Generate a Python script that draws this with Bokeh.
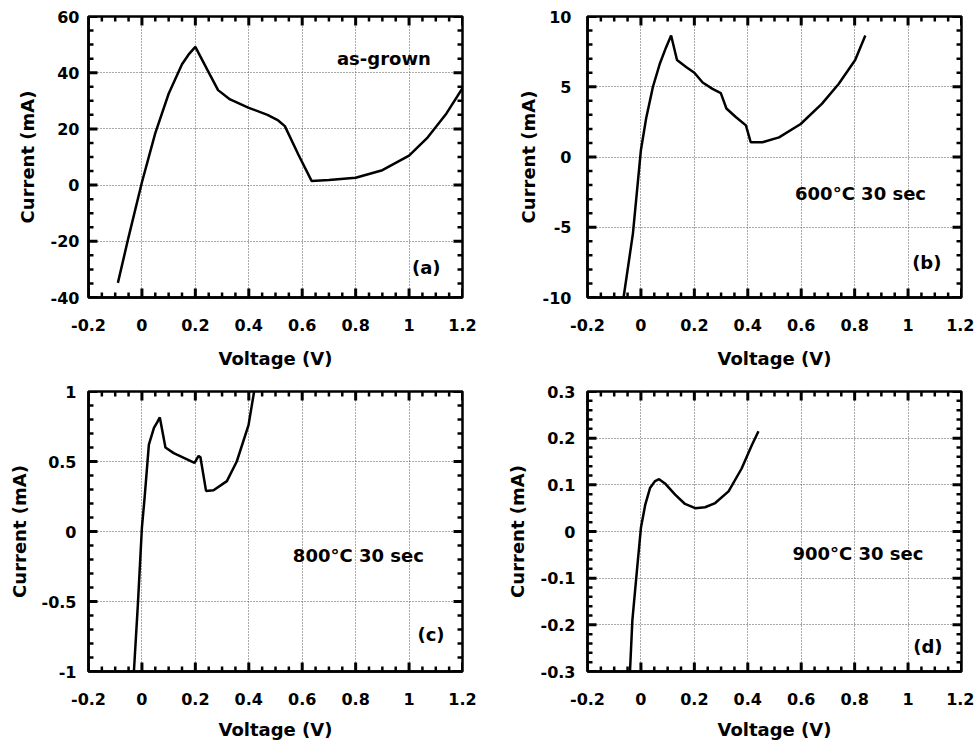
import numpy as np
from bokeh.plotting import figure
from bokeh.layouts import gridplot
from bokeh.models import FixedTicker, CustomJSTickFormatter, Range1d, Label
from bokeh.embed import file_html
from bokeh.resources import INLINE

# ---------------- data ----------------
x_ticks = [-0.2, 0, 0.2, 0.4, 0.6, 0.8, 1, 1.2]
x_tick_labels = ["-0.2", "0", "0.2", "0.4", "0.6", "0.8", "1", "1.2"]

# (a) as-grown
v_a = [-0.09, -0.05, 0.0, 0.05, 0.10, 0.15, 0.175, 0.20, 0.245, 0.285, 0.33, 0.40,
       0.47, 0.51, 0.535, 0.585, 0.635, 0.70, 0.80, 0.90, 1.00, 1.07, 1.14, 1.20]
i_a = [-34.8, -18.5, 1.0, 18.5, 32.5, 43.0, 46.5, 49.2, 41.0, 33.8, 30.5, 27.5,
       25.0, 23.0, 21.0, 11.0, 1.5, 1.8, 2.6, 5.3, 10.5, 17.0, 25.5, 34.5]
y_ticks_a = [-40, -20, 0, 20, 40, 60]
y_tick_labels_a = ["-40", "-20", "0", "20", "40", "60"]

# (b) 600C 30 sec
v_b = [-0.065, -0.030, 0.0, 0.020, 0.045, 0.070, 0.094, 0.113, 0.135, 0.169, 0.200,
       0.231, 0.268, 0.299, 0.320, 0.355, 0.393, 0.411, 0.455, 0.517, 0.598, 0.678,
       0.740, 0.802, 0.840]
i_b = [-10.0, -5.45, 0.5, 2.8, 5.0, 6.6, 7.8, 8.65, 6.9, 6.4, 6.0,
       5.3, 4.85, 4.55, 3.45, 2.85, 2.25, 1.05, 1.05, 1.4, 2.35, 3.8,
       5.2, 6.9, 8.65]
y_ticks_b = [-10, -5, 0, 5, 10]
y_tick_labels_b = ["-10", "-5", "0", "5", "10"]

# (c) 800C 30 sec
v_c = [-0.030, -0.015, 0.0, 0.010, 0.026, 0.045, 0.057, 0.067, 0.088, 0.119, 0.197,
       0.212, 0.219, 0.240, 0.268, 0.318, 0.355, 0.399, 0.420]
i_c = [-1.0, -0.515, 0.03, 0.24, 0.62, 0.74, 0.78, 0.815, 0.60, 0.56, 0.49,
       0.54, 0.53, 0.29, 0.295, 0.36, 0.50, 0.76, 1.0]
y_ticks_c = [-1, -0.5, 0, 0.5, 1]
y_tick_labels_c = ["-1", "-0.5", "0", "0.5", "1"]

# (d) 900C 30 sec
v_d = [-0.041, -0.032, -0.015, 0.0, 0.016, 0.034, 0.053, 0.068, 0.090, 0.128, 0.165,
       0.203, 0.240, 0.278, 0.328, 0.377, 0.415, 0.440]
i_d = [-0.30, -0.19, -0.084, 0.008, 0.057, 0.093, 0.108, 0.112, 0.103, 0.079, 0.059,
       0.050, 0.052, 0.061, 0.086, 0.135, 0.185, 0.215]
y_ticks_d = [-0.3, -0.2, -0.1, 0, 0.1, 0.2, 0.3]
y_tick_labels_d = ["-0.3", "-0.2", "-0.1", "0", "0.1", "0.2", "0.3"]

FONT = "DejaVu Sans"
MAJOR_LEN, MINOR_LEN = 9, 5


def minor_ticks(ticks, n):
    out = []
    for a, b in zip(ticks[:-1], ticks[1:]):
        out.extend(np.linspace(a, b, n + 1)[1:-1].tolist())
    return out


def fmt(ticks, labels):
    return CustomJSTickFormatter(args=dict(tpos=ticks, tlab=labels), code="""
        const k = tpos.findIndex(t => Math.abs(t - tick) < 1e-9);
        return k >= 0 ? tlab[k] : "";
    """)


def style_axis(ax, ticker, formatter, tick_standoff, label_standoff):
    ax.ticker = ticker
    ax.formatter = formatter
    ax.axis_line_width = 2.5
    ax.axis_line_color = "black"
    ax.major_tick_in = 0
    ax.major_tick_out = 0
    ax.minor_tick_in = 0
    ax.minor_tick_out = 0
    ax.major_label_text_font = FONT
    ax.major_label_text_font_style = "bold"
    ax.major_label_text_color = "black"
    ax.major_label_text_font_size = "16px"
    ax.major_label_standoff = tick_standoff
    ax.axis_label_text_font = FONT
    ax.axis_label_text_font_style = "bold"
    ax.axis_label_text_font_size = "18px"
    ax.axis_label_text_color = "black"
    ax.axis_label_standoff = label_standoff


def inner_ticks(p, xr, yr, xt, xm, yt, ym, fw, fh):
    """Inward-pointing tick marks on all four sides of the frame."""
    xpp = (xr[1] - xr[0]) / fw
    ypp = (yr[1] - yr[0]) / fh
    for pos, length, lw in ((xt, MAJOR_LEN, 3), (xm, MINOR_LEN, 2.5)):
        pos = np.asarray(pos, dtype=float)
        n = len(pos)
        p.segment(pos, np.full(n, yr[0]), pos, np.full(n, yr[0] + length * ypp),
                  line_color="black", line_width=lw, line_cap="butt")
        p.segment(pos, np.full(n, yr[1]), pos, np.full(n, yr[1] - length * ypp),
                  line_color="black", line_width=lw, line_cap="butt")
    for pos, length, lw in ((yt, MAJOR_LEN, 3), (ym, MINOR_LEN, 2.5)):
        pos = np.asarray(pos, dtype=float)
        n = len(pos)
        p.segment(np.full(n, xr[0]), pos, np.full(n, xr[0] + length * xpp), pos,
                  line_color="black", line_width=lw, line_cap="butt")
        p.segment(np.full(n, xr[1]), pos, np.full(n, xr[1] - length * xpp), pos,
                  line_color="black", line_width=lw, line_cap="butt")


def panel(v, i, yt, ytl, ydiv, yr, ann, ann_xy, tag, tag_xy, size, borders,
          ystand, ylstand, xlstand):
    w, h = size
    left, right, top, bottom = borders
    xr = (-0.2, 1.2)
    p = figure(width=w, height=h, output_backend="svg", toolbar_location=None,
               x_range=Range1d(*xr), y_range=Range1d(*yr),
               min_border_left=left, min_border_right=right,
               min_border_top=top, min_border_bottom=bottom,
               background_fill_color="white", border_fill_color="white")
    p.outline_line_color = "black"
    p.outline_line_width = 2.5
    xm = minor_ticks(x_ticks, 4)
    ym = minor_ticks(yt, ydiv)
    style_axis(p.xaxis[0], FixedTicker(ticks=x_ticks, minor_ticks=xm), fmt(x_ticks, x_tick_labels),
               21, xlstand)
    style_axis(p.yaxis[0], FixedTicker(ticks=yt, minor_ticks=ym), fmt(yt, ytl), ystand, ylstand)
    p.xaxis[0].axis_label = "Voltage (V)"
    p.yaxis[0].axis_label = "Current (mA)"
    for g in (p.xgrid[0], p.ygrid[0]):
        g.grid_line_color = "#555555"
        g.grid_line_dash = "1 2"
        g.grid_line_width = 1
    inner_ticks(p, xr, yr, x_ticks, xm, yt, ym, w - left - right, h - top - bottom)
    p.line(v, i, line_color="black", line_width=2.5)
    p.add_layout(Label(x=ann_xy[0], y=ann_xy[1], text=ann, text_font=FONT, text_font_style="bold",
                       text_font_size="18px", text_baseline="middle", text_align="left", text_color="black"))
    p.add_layout(Label(x=tag_xy[0], y=tag_xy[1], text=tag, text_font=FONT, text_font_style="bold",
                       text_font_size="18px", text_baseline="middle", text_align="right", text_color="black"))
    return p


pa = panel(v_a, i_a, y_ticks_a, y_tick_labels_a, 4, (-40, 60), "as-grown", (0.73, 45.0),
           "(a)", (1.118, -29.3), (488, 371), (88, 26, 16, 74), 9, 10, 14)
pb = panel(v_b, i_b, y_ticks_b, y_tick_labels_b, 5, (-10, 10), "600°C 30 sec", (0.577, -2.6),
           "(b)", (1.125, -7.5), (486, 371), (98, 13, 16, 74), 16, 1, 14)
pc = panel(v_c, i_c, y_ticks_c, y_tick_labels_c, 5, (-1, 1), "800°C 30 sec", (0.565, -0.17),
           "(c)", (1.133, -0.738), (488, 371), (88, 25, 20, 69), 12, 9, 11)
pd = panel(v_d, i_d, y_ticks_d, y_tick_labels_d, 5, (-0.3, 0.3), "900°C 30 sec", (0.567, -0.048),
           "(d)", (1.129, -0.247), (486, 371), (99, 13, 19, 69), 12, 10, 11)

grid = gridplot([[pa, pb], [pc, pd]], toolbar_location=None)

open("out.html", "w").write(file_html(grid, INLINE))
